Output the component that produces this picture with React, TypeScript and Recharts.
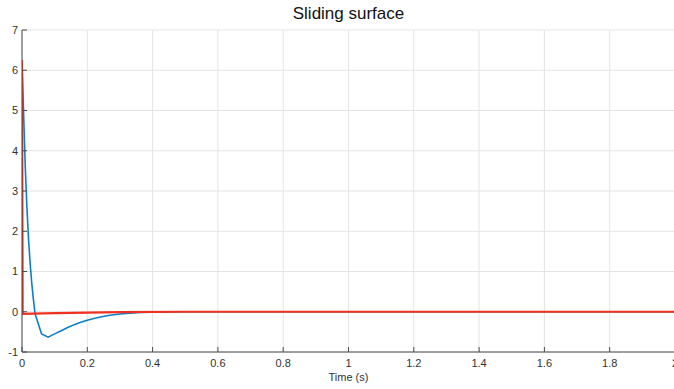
import React from 'react';
import { LineChart, Line, XAxis, YAxis, CartesianGrid } from 'recharts';

// sliding surface s(t)
const blueTime = [0, 0.005, 0.01, 0.015, 0.02, 0.025, 0.03, 0.035, 0.04, 0.06, 0.08, 0.1, 0.12, 0.14, 0.16, 0.18, 0.2, 0.22, 0.24, 0.26, 0.28, 0.3, 0.33, 0.36, 0.4, 0.45, 0.5, 1, 1.5, 2];
const blueValues = [6.25, 4.9, 3.6, 2.6, 1.8, 1.2, 0.7, 0.3, -0.05, -0.55, -0.63, -0.55, -0.47, -0.39, -0.32, -0.26, -0.21, -0.17, -0.13, -0.1, -0.075, -0.055, -0.035, -0.02, -0.01, -0.005, 0, 0, 0, 0];

const redTime = [0, 0.002, 0.1, 0.2, 0.3, 0.5, 1, 1.5, 2];
const redValues = [6.25, -0.05, -0.035, -0.02, -0.01, 0, 0, 0, 0];

const xTicks = [0, 0.2, 0.4, 0.6, 0.8, 1, 1.2, 1.4, 1.6, 1.8, 2];
const yTicks = [-1, 0, 1, 2, 3, 4, 5, 6, 7];

const blueData = blueTime.map((t, i) => ({ t, s: blueValues[i] }));
const redData = redTime.map((t, i) => ({ t, s: redValues[i] }));

const FONT = '"Liberation Sans", Arial, Helvetica, sans-serif';
const AXIS = '#4a4a4a';
const tickStyle = { fill: '#333', fontSize: 11, fontFamily: FONT };

export default function App() {
  return (
    <div style={{ position: 'absolute', left: 0, top: 0, width: 674, height: 389, overflow: 'hidden', background: '#fff' }}>
      <div style={{ position: 'absolute', left: 0, top: 4, width: 697, textAlign: 'center', fontFamily: FONT, fontSize: 17, color: '#111' }}>
        Sliding surface
      </div>
      <LineChart width={690} height={389} margin={{ top: 30, right: 15, bottom: 12, left: 0 }}>
        <CartesianGrid stroke="#e4e4e4" strokeDasharray="" />
        <XAxis
          dataKey="t"
          type="number"
          domain={[0, 2]}
          ticks={xTicks}
          allowDataOverflow
          height={25}
          stroke={AXIS}
          tickSize={-5}
          tickMargin={12}
          tick={tickStyle}
          label={{ value: 'Time (s)', position: 'bottom', offset: -4, style: { fill: '#333', fontSize: 11, fontFamily: FONT } }}
        />
        <XAxis xAxisId="top" orientation="top" dataKey="t" type="number" domain={[0, 2]} ticks={xTicks} height={0} stroke={AXIS} tickSize={-5} tick={false} />
        <YAxis
          type="number"
          domain={[-1, 7]}
          ticks={yTicks}
          allowDataOverflow
          width={22}
          stroke={AXIS}
          tickSize={-5}
          tickMargin={9}
          tick={tickStyle}
        />
        <YAxis yAxisId="right" orientation="right" type="number" domain={[-1, 7]} ticks={yTicks} width={0} stroke={AXIS} tickSize={-5} tick={false} />
        <Line xAxisId="top" yAxisId="right" data={blueData} dataKey="s" stroke="none" dot={false} isAnimationActive={false} />
        <Line data={blueData} dataKey="s" type="linear" stroke="#0a7fc8" strokeWidth={1.6} dot={false} isAnimationActive={false} />
        <Line data={redData} dataKey="s" type="linear" stroke="#f2301f" strokeWidth={2.2} dot={false} isAnimationActive={false} />
      </LineChart>
    </div>
  );
}
